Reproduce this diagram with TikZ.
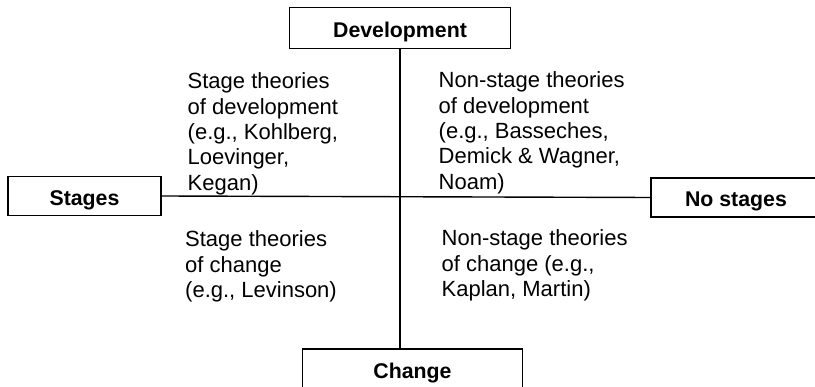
\documentclass[tikz,border=0pt]{standalone}
\usepackage{fontspec}
\setmainfont{Liberation Sans}
\usepackage{tikz}

\begin{document}
\begin{tikzpicture}[
			x=1pt, y=1pt,
			line width=1.4pt,
			axisbox/.style = {draw, inner sep=0pt, text height=19pt, text depth=0pt,
					font=\fontsize{21.3}{24}\selectfont\bfseries},
			quadtext/.style = {anchor=north west, align=left, inner sep=0pt, font=\fontsize{22}{25.4}\selectfont}
		]
		\useasboundingbox (0,0) rectangle (815,-387);
		\node[axisbox, minimum width=220.5pt, minimum height=41pt] (dev) at (400,-27.8) {Development};
		\node[axisbox, minimum width=219.5pt, minimum height=40pt] (chg) at (412.5,-369) {Change};
		\node[axisbox, minimum width=153pt, minimum height=39pt] (stg) at (84.5,-196) {Stages};
		\node[axisbox, minimum width=170pt, minimum height=39pt] (nostg) at (736,-197.5) {No stages};

		\draw (dev.south) -- (dev.south |- chg.north);
		\draw (stg.east) -- (nostg.west);

		\node[quadtext] (stagedev) at (187,-72) {Stage theories\\of development\\(e.g., Kohlberg,\\Loevinger,\\Kegan)};
		\node[quadtext] (nonstagedev) at (438,-71) {Non-stage theories\\of development\\(e.g., Basseches,\\Demick \& Wagner,\\Noam)};
		\node[quadtext] (stagechg) at (184.5,-230) {Stage theories\\of change\\(e.g., Levinson)};
		\node[quadtext] (nonstagechg) at (441,-229) {Non-stage theories\\of change (e.g.,\\Kaplan, Martin)};
	\end{tikzpicture}
\end{document}
